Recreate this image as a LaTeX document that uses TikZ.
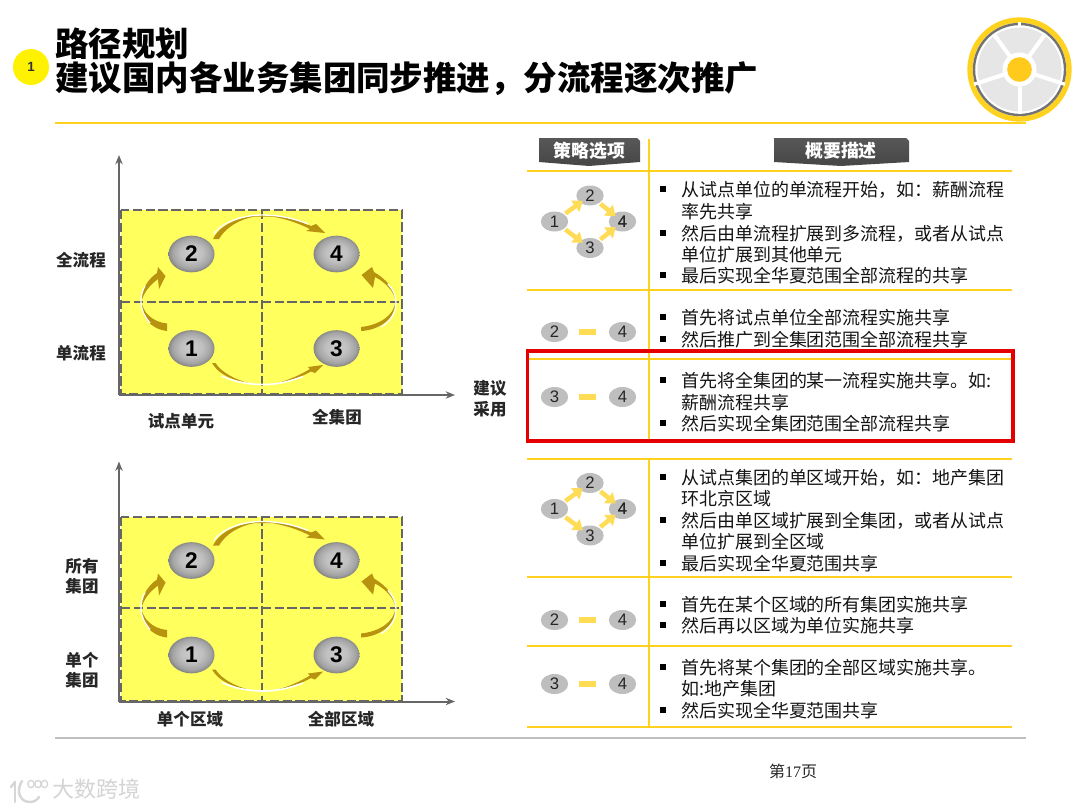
\documentclass[tikz,border=0pt]{standalone}
\usepackage{fontspec}
\setmainfont{Noto Sans CJK SC}
\newfontfamily\latinf{Liberation Sans}
\newfontfamily\serifd{Liberation Serif}
\usetikzlibrary{calc,arrows.meta,shapes.geometric}
\definecolor{rulegold}{HTML}{FFD21F}
\definecolor{cellyellow}{HTML}{FFFF5E}
\definecolor{dashgray}{HTML}{666666}
\definecolor{arcgold}{HTML}{B8930F}
\definecolor{smallgray}{HTML}{BEBEBE}
\definecolor{dotyellow}{HTML}{FFF200}
\definecolor{wheelgray}{HTML}{E6E6E6}
\definecolor{flowyellow}{HTML}{FFDC55}
\pgfdeclareradialshading{ballshade}{\pgfpoint{0bp}{1.5bp}}{
 color(0bp)=(black!20);color(12bp)=(black!25);color(21bp)=(black!36);color(28bp)=(black!55);color(34bp)=(black!72);color(70bp)=(black!72)}
\pgfdeclareverticalshading{headshade}{100bp}{color(0bp)=(black!50);color(30bp)=(black!72);color(100bp)=(black!62)}
\newcount\autoid
\newcommand{\fs}[1]{\fontsize{#1}{#1}\selectfont}
\tikzset{
 x=0.75pt,y=-0.75pt,
 txt/.style={inner sep=0pt,anchor=west,yshift=-2.1pt,text height=.86em,text depth=.12em,font=\fs{13.47pt},text=black!92},
 axlabel/.style={inner sep=0pt,yshift=-1.5pt,text height=.86em,text depth=.12em,font=\fs{12.4pt}\bfseries,text=black!85},
 ttl/.style={inner sep=0pt,anchor=west,yshift=-5.4pt,font=\fs{25.1pt}\bfseries,text height=.86em,text depth=.12em},
 ball/.style={shape=ellipse,minimum width=34.5pt,minimum height=27.5pt,inner sep=0pt,shading=ballshade,font=\latinf\fs{17pt}\bfseries,text=black},
 small/.style={shape=ellipse,minimum width=20.5pt,minimum height=15pt,inner sep=0pt,fill=smallgray,font=\latinf\fs{12.5pt},text=black!85},
 gridrule/.style={rulegold,line width=1.5pt},
 cellline/.style={dashgray,line width=1.5pt,dash pattern=on 7pt off 2.6pt},
 axisline/.style={dashgray,line width=1.5pt,-{Stealth[length=7pt,width=5.5pt]}},
 flow/.style={flowyellow,line width=3.4pt,shorten >=-2.5pt,shorten <=1pt,-{Triangle[length=7pt,width=10pt]}},
 hdr/.style={inner sep=0pt,text=white,font=\fs{13.4pt}\bfseries},
 crescent/.style={fill=arcgold,draw=none},
 rim/.style={white,line width=1pt},
}
\newcommand{\bl}[2]{\global\advance\autoid by 1
 \node[inner sep=0pt,minimum size=3.8pt,fill=black] (bu\the\autoid) at (663,#1) {};
 \node[txt] (tx\the\autoid) at (681,#1) {#2};}
\newcommand{\cl}[2]{\global\advance\autoid by 1
 \node[txt] (tx\the\autoid) at (681,#1) {#2};}
\newcommand{\chart}[2]{%
\begin{scope}[shift={(0,#2)}]
 \coordinate (#1o) at (119,395);
 \coordinate (#1y) at (119,155);
 \coordinate (#1x) at (455,395);
 \fill[cellyellow] (121,210) rectangle (402,394);
 \draw[axisline] (#1o) -- (#1y);
 \draw[axisline] (#1o) -- (#1x);
 \draw[cellline] (121,210) rectangle (402,394);
 \draw[cellline] (262,210) -- (262,394);
 \draw[cellline] (121,301.5) -- (402,301.5);
 \node[ball] (#12) at (191.5,254) {2};
 \node[ball] (#14) at (336.5,254) {4};
 \node[ball] (#11) at (191.5,348.5) {1};
 \node[ball] (#13) at (336.5,348.5) {3};
 % 2 to 4
 \fill[crescent] (213,239) .. controls (219,226) and (236,218) .. (255,215.5) -- (272,215.5) .. controls (288,217) and (300,221) .. (311,226) -- (316,224) -- (325,233) -- (306,231) -- (310,229) .. controls (298,223) and (286,219) .. (272,216.5) -- (255,216.5) .. controls (240,219) and (226,227) .. (219,239) -- cycle;
 \draw[rim] (214,234) .. controls (222,222) and (243,215) .. (262,215) .. controls (280,215) and (296,219) .. (308,224);
 % 1 to 2
 \fill[crescent] (167,331) .. controls (150,329) and (141,316) .. (141,302) .. controls (141,290) and (148,279) .. (157,273) -- (158,267) -- (165.5,276) -- (159,289) -- (158,279) .. controls (150,285) and (143,293) .. (141.5,302) .. controls (143,312) and (152,322) .. (167,323.5) -- cycle;
 \draw[rim] (150,323) .. controls (144,316) and (141,309) .. (141,302) .. controls (141,296) and (142,291) .. (145,286);
 % 3 to 4
 \fill[crescent] (361,331) .. controls (380,330) and (396,318) .. (396,302) .. controls (396,290) and (386,279) .. (374,272) -- (372,267) -- (361.5,275) -- (373,288) -- (375,277) .. controls (385,282) and (395,292) .. (395.5,302) .. controls (394,315) and (380,325) .. (361,327) -- cycle;
 \draw[rim] (381,327) .. controls (390,322) and (396,313) .. (396,302) .. controls (396,296) and (393,289) .. (388,284);
 % 1 to 3
 \fill[crescent] (212,363) .. controls (219,375) and (234,381) .. (250,383.5) .. controls (236,380) and (222,373) .. (215.5,363) -- cycle;
 \fill[crescent] (276,383.5) .. controls (291,381) and (303,376) .. (311,371.5) -- (315,373) -- (323,365) -- (308,367) -- (310,369) .. controls (300,375) and (289,380) .. (276,383.5) -- cycle;
 \draw[white,line width=1.2pt] (222,376) .. controls (232,381) and (247,384.5) .. (263,384.5) .. controls (279,384.5) and (291,381) .. (303,376.5);
\end{scope}}
\newcommand{\diamonds}[2]{%
 \node[small] (#11) at (554.5,#2) {1};
 \node[small] (#12) at (590,#2-26) {2};
 \node[small] (#13) at (590,#2+26.5) {3};
 \node[small] (#14) at (622.5,#2) {4};
 \draw[flow] (#11) -- (#12);
 \draw[flow] (#11) -- (#13);
 \draw[flow] (#12) -- (#14);
 \draw[flow] (#13) -- (#14);
 \node[font=\latinf\fs{12.5pt},text=black!85,inner sep=0pt] (#1n) at (#14) {4};}
\newcommand{\pairrow}[3]{%
 \node[small] (#1a) at (554.5,#3) {#2};
 \node[small] (#1b) at (622.5,#3) {4};
 \path (#1a) -- node[midway,xshift=-.8pt,inner sep=0pt,minimum width=12.5pt,minimum height=4pt,fill=flowyellow] (#1d) {} (#1b);}
\begin{document}
\begin{tikzpicture}
\useasboundingbox (0,0) rectangle (1080,810);
\fill[white] (0,0) rectangle (1080,810);

% title
\node[inner sep=0pt,circle,minimum size=27pt,fill=dotyellow,font=\latinf\fs{10pt}\bfseries,text=black!80] (badge) at (31,67) {1};
\node[ttl] (title1) at (55,44) {路径规划};
\node[ttl] (title2) at (55,78) {建议国内各业务集团同步推进，分流程逐次推广};
\draw[rulegold,line width=1.5pt] (55,123) -- (1026,123);
\draw[black!25,line width=1pt] (55,738) -- (1026,738);

% wheel
\coordinate (wc) at (1019.5,69.5);
\draw[rulegold,line width=4pt] (wc) circle (49.5);
\draw[black!55,line width=1.8pt] (wc) circle (45.5);
\foreach \a in {90,-18,198}{\draw[white,line width=2.5pt] ($(wc)+({cos(\a)*43},{-sin(\a)*43})$) -- ++({cos(\a)*5},{-sin(\a)*5});}
\fill[wheelgray] (wc) circle (42);
\foreach \a in {54,126,198,270,342}{\draw[white,line width=3pt] (wc) -- ++({cos(\a)*44},{-sin(\a)*44});}
\fill[white] (wc) circle (17);
\node[circle,fill=rulegold!90!orange,inner sep=0pt,minimum size=18.5pt] (hub) at (wc) {};

% charts
\chart{a}{0}
\chart{b}{306.5}

\node[axlabel] (la1) at (81,260) {全流程};
\node[axlabel] (la2) at (81,353) {单流程};
\node[axlabel] (la3) at (181,421) {试点单元};
\node[axlabel] (la4) at (337,417) {全集团};
\node[axlabel] (la5) at (490,388) {建议};
\node[axlabel] (la6) at (490,409) {采用};
\node[axlabel] (lb1) at (82,566) {所有};
\node[axlabel] (lb2) at (82,586) {集团};
\node[axlabel] (lb3) at (82,660) {单个};
\node[axlabel] (lb4) at (82,680) {集团};
\node[axlabel] (lb5) at (190,719) {单个区域};
\node[axlabel] (lb6) at (341,719) {全部区域};

% table rules
\draw[gridrule] (649,139) -- (649,441);
\draw[gridrule] (649,459) -- (649,727);
\foreach \yy in {171,290,359,459,577,646,727}{\draw[gridrule] (527,\yy) -- (1012,\yy);}

% headers
\path[shading=headshade] (539,138) -- (637,138) -- (640,141) -- (640,162) -- (589,166) -- (539,162) -- cycle;
\node[hdr] (h1) at (589.5,151) {策略选项};
\path[shading=headshade] (774,138) -- (906,138) -- (909,141) -- (909,162) -- (841,166) -- (774,162) -- cycle;
\node[hdr] (h2) at (841,151) {概要描述};

% small diagrams
\diamonds{c}{221.5}
\diamonds{d}{509}
\pairrow{e}{2}{332}
\pairrow{f}{3}{397}
\pairrow{g}{2}{620}
\pairrow{h}{3}{684}

% body text
\bl{189}{从试点单位的单流程开始，如：薪酬流程}
\cl{211}{率先共享}
\bl{233}{然后由单流程扩展到多流程，或者从试点}
\cl{254}{单位扩展到其他单元}
\bl{275}{最后实现全华夏范围全部流程的共享}
\bl{317}{首先将试点单位全部流程实施共享}
\bl{339}{然后推广到全集团范围全部流程共享}
\bl{380}{首先将全集团的某一流程实施共享。如:}
\cl{402}{薪酬流程共享}
\bl{423}{然后实现全集团范围全部流程共享}
\bl{477}{从试点集团的单区域开始，如：地产集团}
\cl{498}{环北京区域}
\bl{520}{然后由单区域扩展到全集团，或者从试点}
\cl{541}{单位扩展到全区域}
\bl{563}{最后实现全华夏范围共享}
\bl{604}{首先在某个区域的所有集团实施共享}
\bl{625}{然后再以区域为单位实施共享}
\bl{667}{首先将某个集团的全部区域实施共享。}
\cl{688}{如:地产集团}
\bl{710}{然后实现全华夏范围共享}

% red frame
\draw[red!90!black,line width=2.3pt] (527.5,351) rectangle (1013,441);

% page number
\node[inner sep=0pt,font=\fs{12pt},text=black!85] (page) at (793,771) {第{\serifd 17}页};

% watermark
\draw[black!16,line width=1.8pt,line cap=round] (15,782) -- (11,787);
\draw[black!16,line width=1.8pt,line cap=round] (15,782) -- (15,802);
\draw[black!16,line width=1.8pt,line cap=round] (22,781) .. controls (16,790) and (19,802) .. (30,802) .. controls (34,802) and (37,800) .. (39,797);
\foreach \xx in {31,38,44.5}{\draw[black!16,line width=1pt] (\xx,784) ellipse (3.2 and 3.6);}
\node[inner sep=0pt,font=\fs{16.5pt},text=black!17] (wm) at (96,789.5) {大数跨境};
\end{tikzpicture}
\end{document}
